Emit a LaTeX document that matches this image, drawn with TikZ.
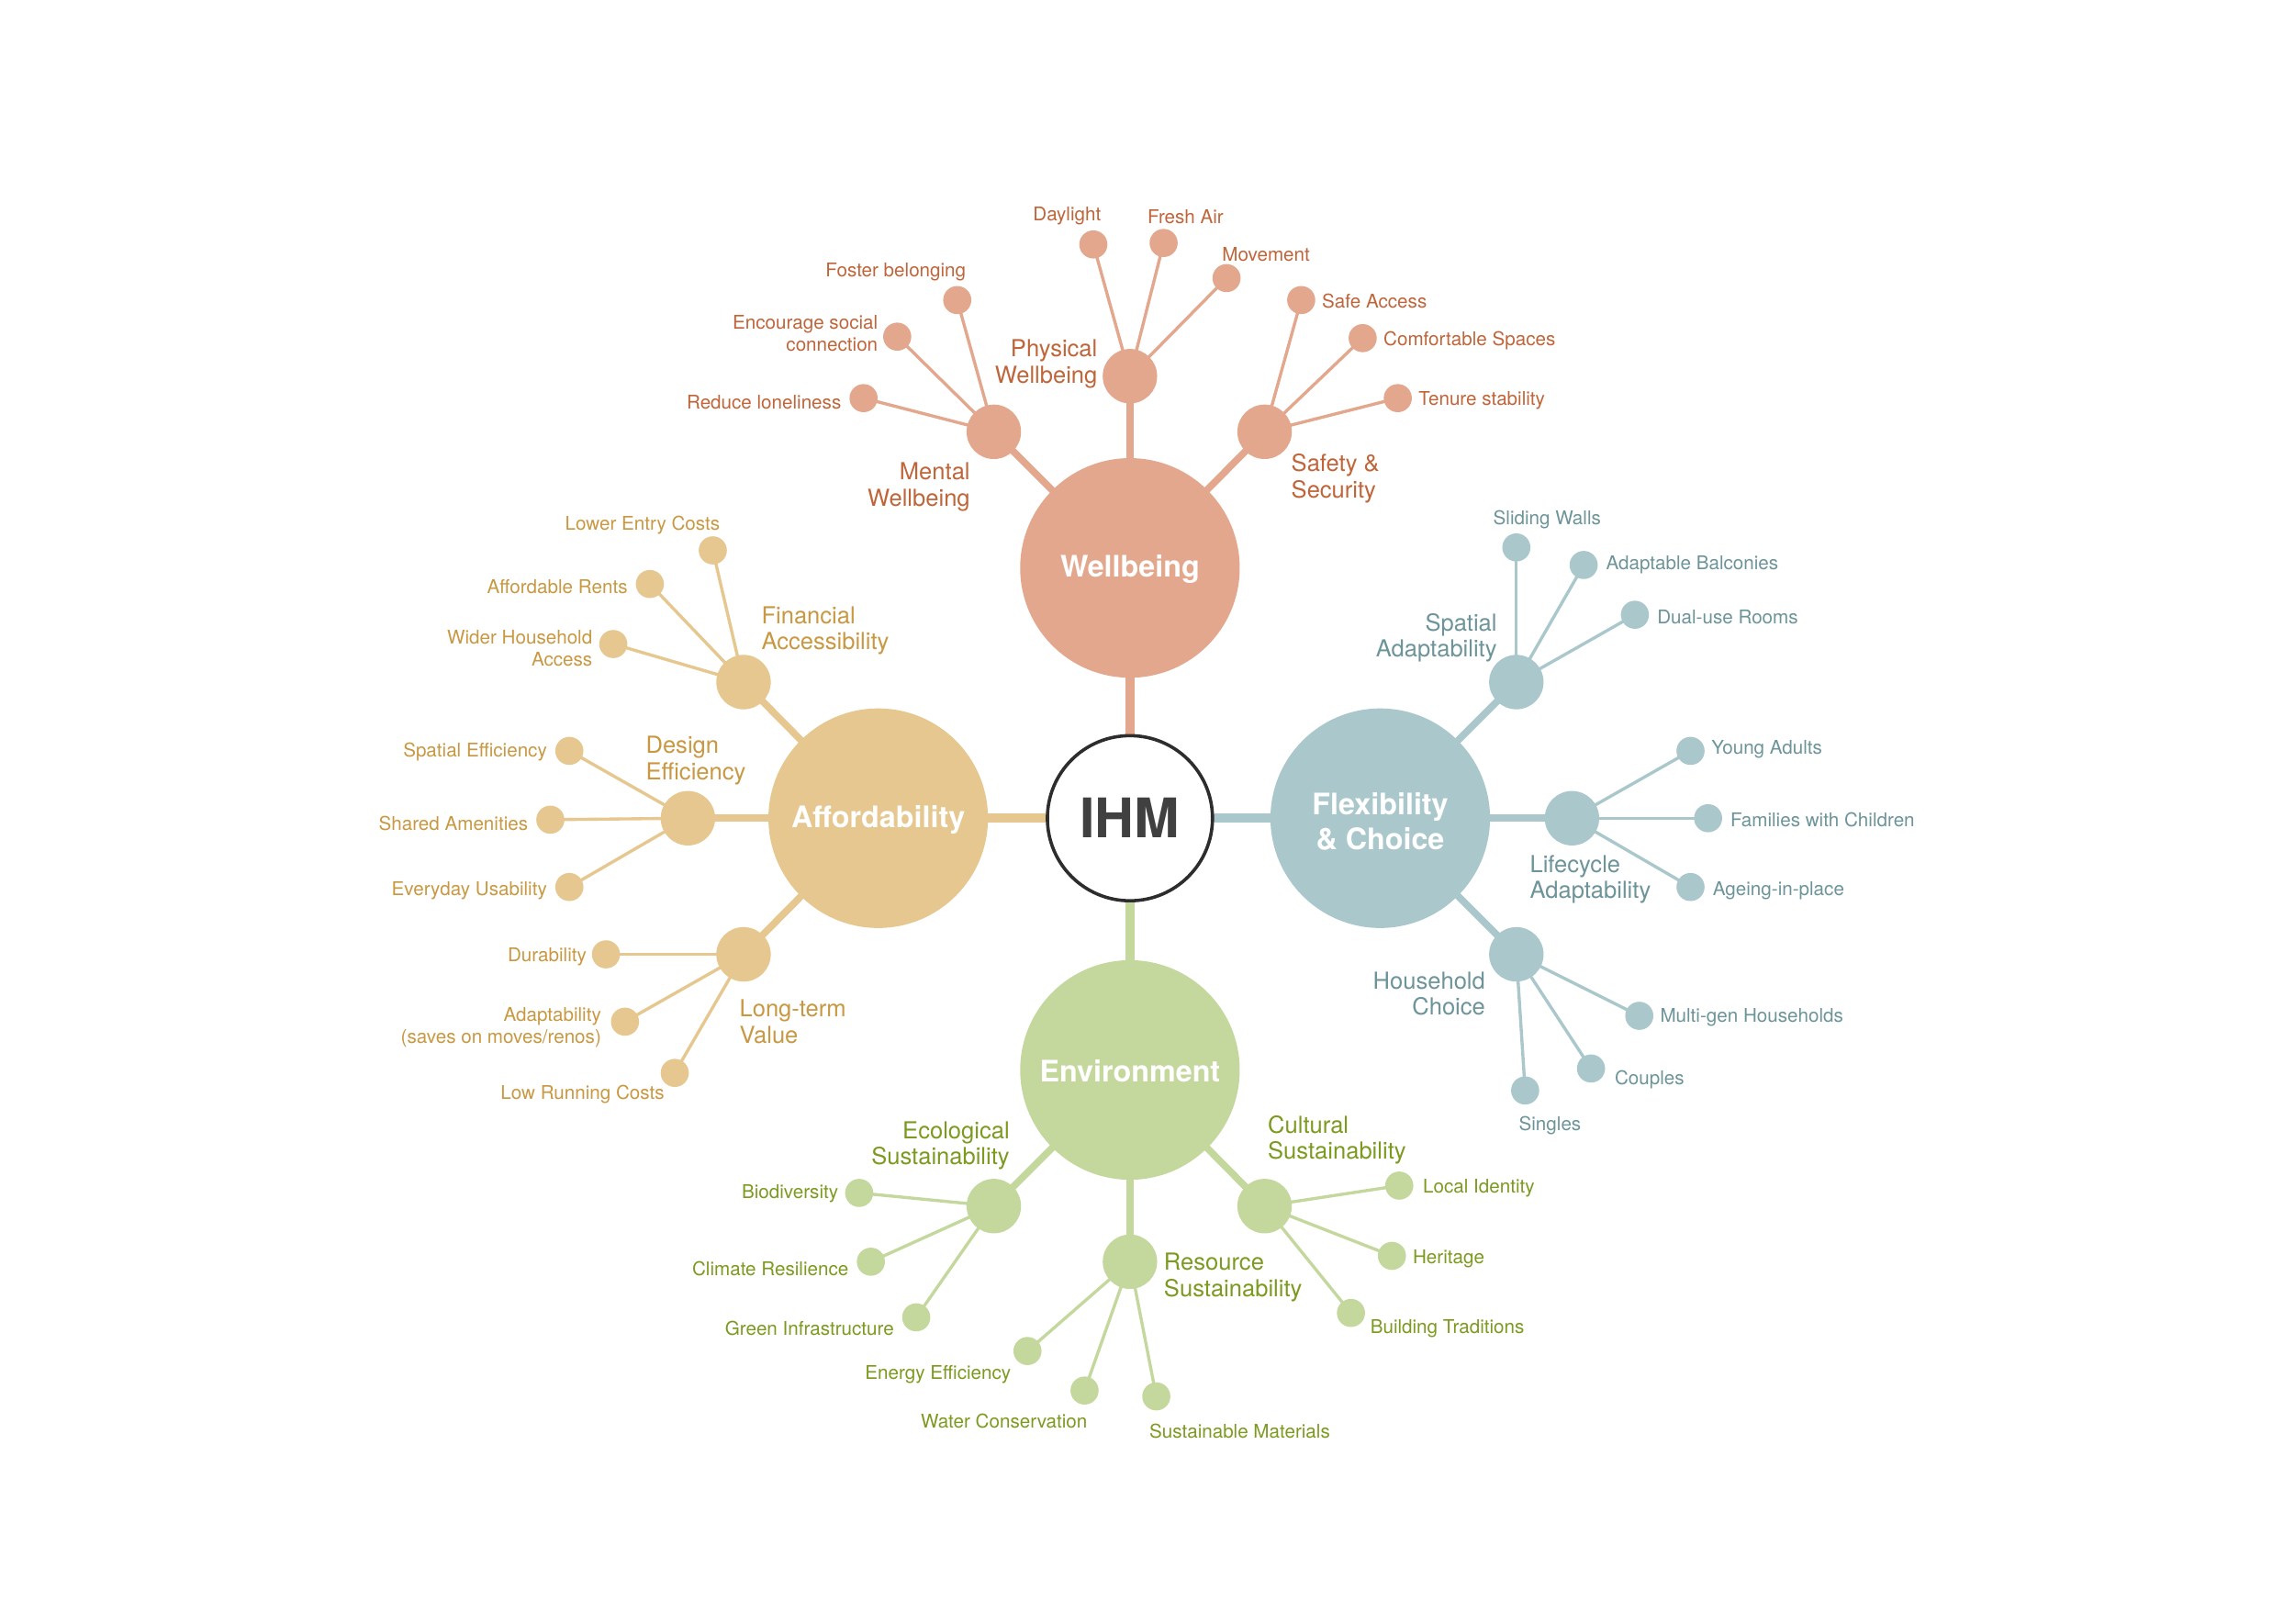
\documentclass[tikz,border=0pt]{standalone}
\usepackage{fontspec}
\setmainfont{TeX Gyre Heros}
\usetikzlibrary{backgrounds}
\definecolor{wbF}{RGB}{227,167,141}
\definecolor{wbT}{RGB}{192,101,58}
\definecolor{afF}{RGB}{229,199,143}
\definecolor{afT}{RGB}{200,152,66}
\definecolor{fxF}{RGB}{170,199,203}
\definecolor{fxT}{RGB}{108,148,153}
\definecolor{enF}{RGB}{196,216,157}
\definecolor{enT}{RGB}{124,154,32}
\definecolor{ihmB}{RGB}{45,45,45}
\definecolor{ihmT}{RGB}{64,64,64}
\begin{document}
\begin{tikzpicture}[x=0.25mm,y=-0.25mm,
  mainc/.style={circle,minimum size=37.5mm,inner sep=0,align=center,text=white,font=\fontsize{14.4}{17}\selectfont\bfseries},
  midc/.style={circle,minimum size=9.3mm,inner sep=0},
  leafc/.style={circle,minimum size=4.8mm,inner sep=0},
  lab/.style={inner sep=0,yshift=-0.45mm,font=\fontsize{9.2}{10.7}\selectfont},
  mlab/.style={inner sep=0,yshift=-0.45mm,font=\fontsize{11.4}{12.8}\selectfont},
  mtxt/.style={inner sep=0,align=center,text=white,font=\fontsize{14.4}{17}\selectfont\bfseries},
  trunk/.style={line width=4.4pt},
  branch/.style={line width=3.4pt},
  twig/.style={line width=1.5pt}]
\useasboundingbox (0,0) rectangle (1568,1109);

% centre
\node[circle,minimum size=28.2mm,inner sep=0,draw=ihmB,line width=1.6pt,fill=white,text=ihmT,font=\fontsize{26.5}{30}\selectfont\bfseries] (ihm) at (772,559) {IHM};

% ---------- Wellbeing ----------
\begin{scope}[every node/.append style={fill=wbF}]
\node[mainc] (wb) at (772,388) {};
\node[midc] (pw) at (772,257) {};
\node[midc] (mw) at (679,295) {};
\node[midc] (sw) at (864,295) {};
\node[leafc] (pw1) at (747,167) {};
\node[leafc] (pw2) at (795,166) {};
\node[leafc] (pw3) at (838,190) {};
\node[leafc] (mw1) at (654,205) {};
\node[leafc] (mw2) at (613,230) {};
\node[leafc] (mw3) at (590,272) {};
\node[leafc] (sw1) at (889,205) {};
\node[leafc] (sw2) at (931,231) {};
\node[leafc] (sw3) at (955,272) {};
\end{scope}
\node[mtxt] (twb) at (772,389) {Wellbeing};
\begin{scope}[every node/.append style={text=wbT}]
\node[mlab,anchor=east,align=right] (tpw) at (750,247) {Physical\\Wellbeing};
\node[mlab,anchor=east,align=right] (tmw) at (663,331) {Mental\\Wellbeing};
\node[mlab,anchor=west,align=left] (tsw) at (882,325) {Safety \&\\Security};
\node[lab] (tpw1) at (729,146) {Daylight};
\node[lab] (tpw2) at (810,146) {Fresh Air};
\node[lab] (tpw3) at (865,172) {Movement};
\node[lab] (tmw1) at (612,184) {Foster belonging};
\node[lab,anchor=east,align=right] (tmw2) at (600,226) {Encourage social\\connection};
\node[lab,anchor=east] (tmw3) at (575,273) {Reduce loneliness};
\node[lab,anchor=west] (tsw1) at (903,204) {Safe Access};
\node[lab,anchor=west] (tsw2) at (945,231) {Comfortable Spaces};
\node[lab,anchor=west] (tsw3) at (969,272) {Tenure stability};
\end{scope}

% ---------- Affordability ----------
\begin{scope}[every node/.append style={fill=afF}]
\node[mainc] (af) at (600,559) {};
\node[midc] (fa) at (508,466) {};
\node[midc] (de) at (470,559) {};
\node[midc] (lv) at (508,652) {};
\node[leafc] (fa1) at (487,376) {};
\node[leafc] (fa2) at (444,399) {};
\node[leafc] (fa3) at (419,440) {};
\node[leafc] (de1) at (389,513) {};
\node[leafc] (de2) at (376,560) {};
\node[leafc] (de3) at (389,606) {};
\node[leafc] (lv1) at (414,652) {};
\node[leafc] (lv2) at (427,698) {};
\node[leafc] (lv3) at (461,733) {};
\end{scope}
\node[mtxt] (taf) at (600,560) {Affordability};
\begin{scope}[every node/.append style={text=afT}]
\node[mlab,anchor=west,align=left] (tfa) at (520,429) {Financial\\Accessibility};
\node[mlab,anchor=west,align=left] (tde) at (441,518) {Design\\Efficiency};
\node[mlab,anchor=west,align=left] (tlv) at (505,696) {Long-term\\Value};
\node[lab] (tfa1) at (439,357) {Lower Entry Costs};
\node[lab,anchor=east] (tfa2) at (429,399) {Affordable Rents};
\node[lab,anchor=east,align=right] (tfa3) at (405,441) {Wider Household\\Access};
\node[lab,anchor=east] (tde1) at (374,512) {Spatial Efficiency};
\node[lab,anchor=east] (tde2) at (361,561) {Shared Amenities};
\node[lab,anchor=east] (tde3) at (374,607) {Everyday Usability};
\node[lab,anchor=east] (tlv1) at (401,652) {Durability};
\node[lab,anchor=east,align=right] (tlv2) at (411,700) {Adaptability\\(saves on moves/renos)};
\node[lab] (tlv3) at (398,746) {Low Running Costs};
\end{scope}

% ---------- Flexibility ----------
\begin{scope}[every node/.append style={fill=fxF}]
\node[mainc] (fx) at (943,559) {};
\node[midc] (sa) at (1036,466) {};
\node[midc] (la) at (1074,559) {};
\node[midc] (hc) at (1036,652) {};
\node[leafc] (sa1) at (1036,374) {};
\node[leafc] (sa2) at (1082,386) {};
\node[leafc] (sa3) at (1117,420) {};
\node[leafc] (la1) at (1155,513) {};
\node[leafc] (la2) at (1167,559) {};
\node[leafc] (la3) at (1155,606) {};
\node[leafc] (hc1) at (1120,694) {};
\node[leafc] (hc2) at (1087,730) {};
\node[leafc] (hc3) at (1042,745) {};
\end{scope}
\node[mtxt] (tfx) at (943,561) {Flexibility\\\& Choice};
\begin{scope}[every node/.append style={text=fxT}]
\node[mlab,anchor=east,align=right] (tsa) at (1023,434) {Spatial\\Adaptability};
\node[mlab,anchor=west,align=left] (tla) at (1045,599) {Lifecycle\\Adaptability};
\node[mlab,anchor=east,align=right] (thc) at (1015,677) {Household\\Choice};
\node[lab] (tsa1) at (1057,353) {Sliding Walls};
\node[lab,anchor=west] (tsa2) at (1097,384) {Adaptable Balconies};
\node[lab,anchor=west] (tsa3) at (1132,420) {Dual-use Rooms};
\node[lab,anchor=west] (tla1) at (1169,510) {Young Adults};
\node[lab,anchor=west] (tla2) at (1182,558) {Families with Children};
\node[lab,anchor=west] (tla3) at (1170,607) {Ageing-in-place};
\node[lab,anchor=west] (thc1) at (1134,693) {Multi-gen Households};
\node[lab,anchor=west] (thc2) at (1103,736) {Couples};
\node[lab] (thc3) at (1059,767) {Singles};
\end{scope}

% ---------- Environment ----------
\begin{scope}[every node/.append style={fill=enF}]
\node[mainc] (en) at (772,731) {};
\node[midc] (es) at (679,824) {};
\node[midc] (rs) at (772,862) {};
\node[midc] (cs) at (864,824) {};
\node[leafc] (es1) at (587,815) {};
\node[leafc] (es2) at (595,862) {};
\node[leafc] (es3) at (626,900) {};
\node[leafc] (rs1) at (702,923) {};
\node[leafc] (rs2) at (741,950) {};
\node[leafc] (rs3) at (790,954) {};
\node[leafc] (cs1) at (956,810) {};
\node[leafc] (cs2) at (951,858) {};
\node[leafc] (cs3) at (923,897) {};
\end{scope}
\node[mtxt] (ten) at (772,732) {Environment};
\begin{scope}[every node/.append style={text=enT}]
\node[mlab,anchor=east,align=right] (tes) at (690,781) {Ecological\\Sustainability};
\node[mlab,anchor=west,align=left] (trs) at (795,871) {Resource\\Sustainability};
\node[mlab,anchor=west,align=left] (tcs) at (866,777) {Cultural\\Sustainability};
\node[lab,anchor=east] (tes1) at (573,814) {Biodiversity};
\node[lab,anchor=east] (tes2) at (580,865) {Climate Resilience};
\node[lab,anchor=east] (tes3) at (611,906) {Green Infrastructure};
\node[lab,anchor=east] (trs1) at (691,937) {Energy Efficiency};
\node[lab] (trs2) at (686,969) {Water Conservation};
\node[lab] (trs3) at (847,976) {Sustainable Materials};
\node[lab,anchor=west] (tcs1) at (972,810) {Local Identity};
\node[lab,anchor=west] (tcs2) at (965,858) {Heritage};
\node[lab,anchor=west] (tcs3) at (936,906) {Building Traditions};
\end{scope}

% ---------- connectors ----------
\begin{pgfonlayer}{background}
\fill[white] (0,0) rectangle (1568,1109);
\draw[trunk,wbF] (ihm.center) -- (wb.center);
\draw[trunk,afF] (ihm.center) -- (af.center);
\draw[trunk,fxF] (ihm.center) -- (fx.center);
\draw[trunk,enF] (ihm.center) -- (en.center);
\foreach \m/\c in {pw/wbF,mw/wbF,sw/wbF}{\draw[branch,\c] (wb.center) -- (\m.center);}
\foreach \m/\c in {fa/afF,de/afF,lv/afF}{\draw[branch,\c] (af.center) -- (\m.center);}
\foreach \m/\c in {sa/fxF,la/fxF,hc/fxF}{\draw[branch,\c] (fx.center) -- (\m.center);}
\foreach \m/\c in {es/enF,rs/enF,cs/enF}{\draw[branch,\c] (en.center) -- (\m.center);}
\foreach \m/\c in {pw/wbF,mw/wbF,sw/wbF,fa/afF,de/afF,lv/afF,sa/fxF,la/fxF,hc/fxF,es/enF,rs/enF,cs/enF}{
  \foreach \i in {1,2,3}{\draw[twig,\c] (\m.center) -- (\m\i.center);}}
\end{pgfonlayer}
\end{tikzpicture}
\end{document}
